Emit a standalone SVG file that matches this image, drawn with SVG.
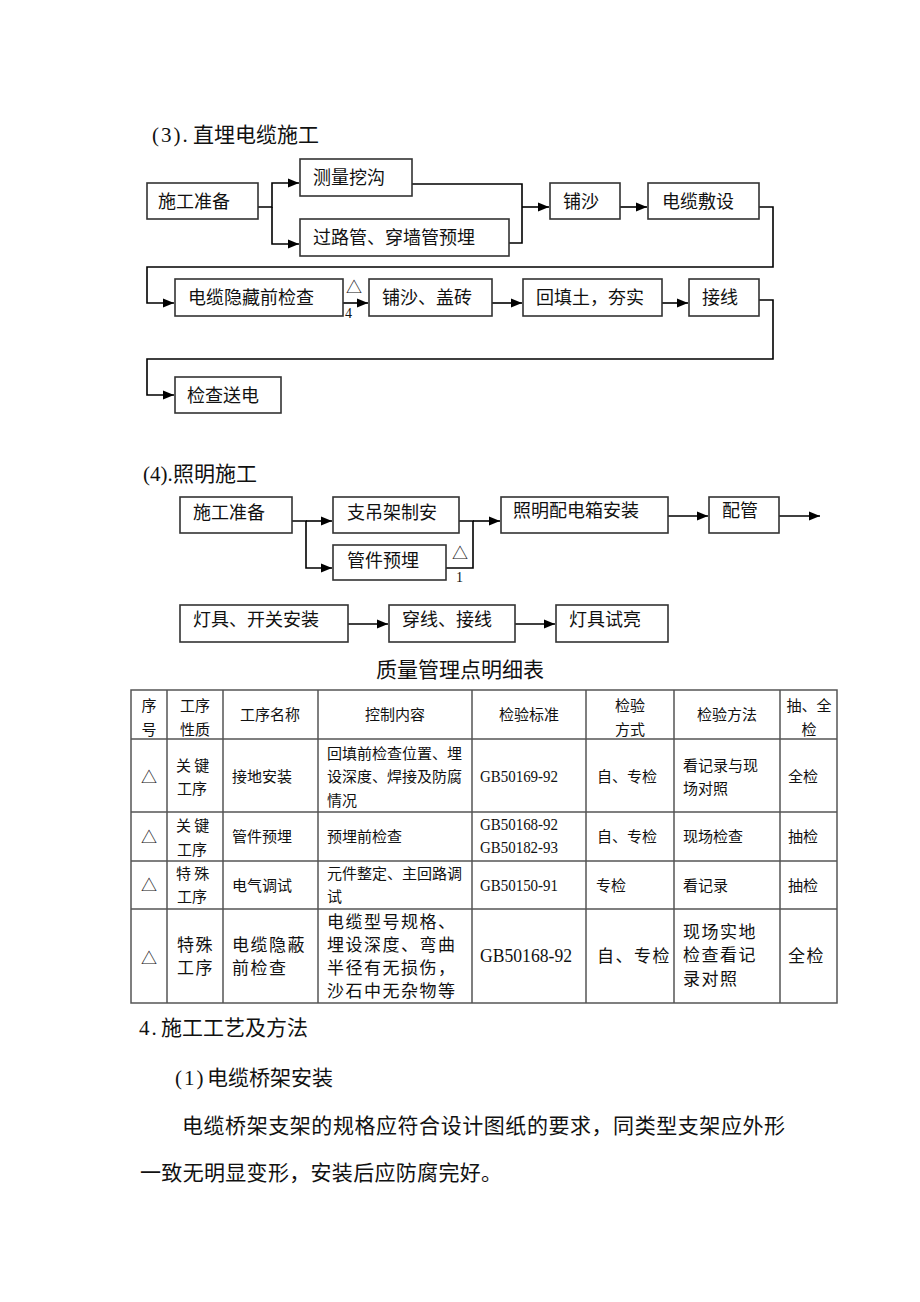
<svg xmlns="http://www.w3.org/2000/svg" width="920" height="1302" viewBox="0 0 920 1302">
<style>
.bg{fill:#fff}
.box{fill:#fff;stroke:#333;stroke-width:1.6}
.ln{fill:none;stroke:#000;stroke-width:1.6}
.t{font-family:"Noto Sans CJK SC",sans-serif;font-size:18px;fill:#111}
.h{font-family:"Noto Sans CJK SC",sans-serif;font-size:21px;fill:#111}
.m{font-family:"Liberation Serif",serif;font-size:21px;letter-spacing:2px}
.tb{fill:none;stroke:#555;stroke-width:1.5}
.c{font-family:"Noto Sans CJK SC",sans-serif;font-size:15px;fill:#111}
.c4{font-family:"Noto Sans CJK SC",sans-serif;font-size:17px;letter-spacing:1.5px;fill:#111}
.g{font-family:"Liberation Serif",serif;font-size:16px;fill:#111}
.g4{font-family:"Liberation Serif",serif;font-size:18px;fill:#111}
.mid{text-anchor:middle}
.tri{font-family:"Noto Sans CJK SC",sans-serif;font-size:16px;fill:#111}
.num{font-family:"Liberation Serif",serif;font-size:14px;fill:#111}
</style>
<defs>
<marker id="ar" markerUnits="userSpaceOnUse" markerWidth="12" markerHeight="10" refX="11" refY="5" orient="auto">
<path d="M0,0.5 L11,5 L0,9.5 z" fill="#000"/>
</marker>
</defs>
<rect class="bg" x="0" y="0" width="920" height="1302"/>

<text id="title3" class="h" x="152" y="142"><tspan class="m">(3).</tspan><tspan x="193">直埋电缆施工</tspan></text>

<g id="connectors">
<path class="ln" d="M258,207 H272 V183 H299" marker-end="url(#ar)"/>
<path class="ln" d="M272,207 V244 H299" marker-end="url(#ar)"/>
<path class="ln" d="M412,184 H522 V243 H509"/>
<path class="ln" d="M522,207 H549" marker-end="url(#ar)"/>
<path class="ln" d="M620,207 H647" marker-end="url(#ar)"/>
<path class="ln" d="M759,207 H773 V267 H147 V303 H174" marker-end="url(#ar)"/>
<path class="ln" d="M343,303 H368" marker-end="url(#ar)"/>
<path class="ln" d="M492,303 H522" marker-end="url(#ar)"/>
<path class="ln" d="M662,303 H688" marker-end="url(#ar)"/>
<path class="ln" d="M759,300 H773 V359 H147 V395 H174" marker-end="url(#ar)"/>
<path class="ln" d="M292,521 H306 V568 H332" marker-end="url(#ar)"/>
<path class="ln" d="M306,521 H332" marker-end="url(#ar)"/>
<path class="ln" d="M459,521 H473 V568 H446"/>
<path class="ln" d="M473,521 H500" marker-end="url(#ar)"/>
<path class="ln" d="M668,516 H708" marker-end="url(#ar)"/>
<path class="ln" d="M779,516 H820" marker-end="url(#ar)"/>
<path class="ln" d="M348,624 H388" marker-end="url(#ar)"/>
<path class="ln" d="M515,624 H555" marker-end="url(#ar)"/>
<text class="tri" x="346" y="293">△</text>
<text class="num" x="345" y="318">4</text>
<text class="tri" x="452" y="559">△</text>
<text class="num" x="456" y="582">1</text>
</g>

<g id="n_prep3"><rect class="box" x="147" y="183" width="111" height="36"/><text class="t" x="158" y="208">施工准备</text></g>
<g id="n_survey"><rect class="box" x="300" y="159" width="112" height="37"/><text class="t" x="313" y="184">测量挖沟</text></g>
<g id="n_pipe"><rect class="box" x="300" y="219" width="209" height="37"/><text class="t" x="313" y="244">过路管、穿墙管预埋</text></g>
<g id="n_sand1"><rect class="box" x="550" y="183" width="70" height="36"/><text class="t" x="563" y="208">铺沙</text></g>
<g id="n_lay"><rect class="box" x="648" y="183" width="111" height="36"/><text class="t" x="662" y="208">电缆敷设</text></g>
<g id="n_hidden"><rect class="box" x="175" y="279" width="168" height="37"/><text class="t" x="188" y="304">电缆隐藏前检查</text></g>
<g id="n_sand2"><rect class="box" x="369" y="279" width="123" height="37"/><text class="t" x="382" y="304">铺沙、盖砖</text></g>
<g id="n_fill"><rect class="box" x="523" y="279" width="139" height="37"/><text class="t" x="536" y="304">回填土，夯实</text></g>
<g id="n_wire3"><rect class="box" x="689" y="279" width="70" height="37"/><text class="t" x="702" y="304">接线</text></g>
<g id="n_power"><rect class="box" x="175" y="377" width="106" height="36"/><text class="t" x="187" y="402">检查送电</text></g>

<text id="title4" class="h" x="143" y="481"><tspan font-family="Liberation Serif, serif">(4).</tspan><tspan x="173">照明施工</tspan></text>

<g id="n_prep4"><rect class="box" x="180" y="497" width="112" height="36"/><text class="t" x="193" y="519">施工准备</text></g>
<g id="n_hanger"><rect class="box" x="333" y="497" width="126" height="36"/><text class="t" x="347" y="519">支吊架制安</text></g>
<g id="n_embed"><rect class="box" x="333" y="545" width="113" height="35"/><text class="t" x="347" y="567">管件预埋</text></g>
<g id="n_dist"><rect class="box" x="501" y="497" width="167" height="36"/><text class="t" x="513" y="517">照明配电箱安装</text></g>
<g id="n_conduit"><rect class="box" x="709" y="497" width="70" height="36"/><text class="t" x="722" y="517">配管</text></g>
<g id="n_lamp"><rect class="box" x="180" y="605" width="168" height="37"/><text class="t" x="193" y="626">灯具、开关安装</text></g>
<g id="n_thread"><rect class="box" x="389" y="605" width="126" height="37"/><text class="t" x="402" y="626">穿线、接线</text></g>
<g id="n_test"><rect class="box" x="556" y="605" width="112" height="37"/><text class="t" x="569" y="626">灯具试亮</text></g>

<text id="tabletitle" class="h mid" x="460" y="677">质量管理点明细表</text>

<g id="table">
<rect class="tb" x="131" y="690" width="706" height="313"/>
<path class="tb" d="M167,690 V1003 M223,690 V1003 M318,690 V1003 M472,690 V1003 M586,690 V1003 M674,690 V1003 M780,690 V1003 M131,739 H837 M131,812 H837 M131,861 H837 M131,909 H837"/>
<text class="c mid" x="149" y="711">序</text><text class="c mid" x="149" y="735">号</text>
<text class="c mid" x="195" y="711">工序</text><text class="c mid" x="195" y="735">性质</text>
<text class="c mid" x="270" y="720">工序名称</text>
<text class="c mid" x="395" y="720">控制内容</text>
<text class="c mid" x="529" y="720">检验标准</text>
<text class="c mid" x="630" y="711">检验</text><text class="c mid" x="630" y="735">方式</text>
<text class="c mid" x="727" y="720">检验方法</text>
<text class="c mid" x="809" y="711">抽、全</text><text class="c mid" x="809" y="735">检</text>

<text class="tri mid" x="149" y="783">△</text>
<text class="c" x="176" y="771">关 键</text><text class="c" x="177" y="794">工序</text>
<text class="c" x="232" y="782">接地安装</text>
<text class="c" x="327" y="759">回填前检查位置、埋</text><text class="c" x="327" y="782">设深度、焊接及防腐</text><text class="c" x="327" y="806">情况</text>
<text class="g" x="480" y="782" textLength="78" lengthAdjust="spacingAndGlyphs">GB50169-92</text>
<text class="c" x="597" y="782">自、专检</text>
<text class="c" x="683" y="771">看记录与现</text><text class="c" x="683" y="794">场对照</text>
<text class="c" x="788" y="782">全检</text>

<text class="tri mid" x="149" y="843">△</text>
<text class="c" x="176" y="831">关 键</text><text class="c" x="177" y="855">工序</text>
<text class="c" x="232" y="842">管件预埋</text>
<text class="c" x="327" y="842">预埋前检查</text>
<text class="g" x="480" y="830" textLength="78" lengthAdjust="spacingAndGlyphs">GB50168-92</text><text class="g" x="480" y="853" textLength="78" lengthAdjust="spacingAndGlyphs">GB50182-93</text>
<text class="c" x="597" y="842">自、专检</text>
<text class="c" x="683" y="842">现场检查</text>
<text class="c" x="788" y="842">抽检</text>

<text class="tri mid" x="149" y="891">△</text>
<text class="c" x="176" y="879">特 殊</text><text class="c" x="177" y="902">工序</text>
<text class="c" x="232" y="891">电气调试</text>
<text class="c" x="327" y="879">元件整定、主回路调</text><text class="c" x="327" y="902">试</text>
<text class="g" x="480" y="891" textLength="78" lengthAdjust="spacingAndGlyphs">GB50150-91</text>
<text class="c" x="596" y="891">专检</text>
<text class="c" x="683" y="891">看记录</text>
<text class="c" x="788" y="891">抽检</text>

<text class="tri mid" x="149" y="964">△</text>
<text class="c4" x="177" y="951">特殊</text><text class="c4" x="177" y="974">工序</text>
<text class="c4" x="232" y="951">电缆隐蔽</text><text class="c4" x="232" y="974">前检查</text>
<text class="c4" x="327" y="928">电缆型号规格、</text><text class="c4" x="327" y="951">埋设深度、弯曲</text><text class="c4" x="327" y="974">半径有无损伤，</text><text class="c4" x="327" y="997">沙石中无杂物等</text>
<text class="g4" x="480" y="962" textLength="92" lengthAdjust="spacingAndGlyphs">GB50168-92</text>
<text class="c4" x="597" y="962">自、专检</text>
<text class="c4" x="683" y="938">现场实地</text><text class="c4" x="683" y="961">检查看记</text><text class="c4" x="683" y="985">录对照</text>
<text class="c4" x="788" y="962">全检</text>
</g>

<text id="sec4" class="h" x="139" y="1035"><tspan class="m">4.</tspan><tspan x="161">施工工艺及方法</tspan></text>
<text id="sec4_1" class="h" x="175" y="1085"><tspan class="m">(1)</tspan><tspan x="207">电缆桥架安装</tspan></text>
<text id="para1" class="h" x="182" y="1133" textLength="603" lengthAdjust="spacing">电缆桥架支架的规格应符合设计图纸的要求，同类型支架应外形</text>
<text id="para2" class="h" x="140" y="1180" textLength="362" lengthAdjust="spacing">一致无明显变形，安装后应防腐完好。</text>
</svg>
